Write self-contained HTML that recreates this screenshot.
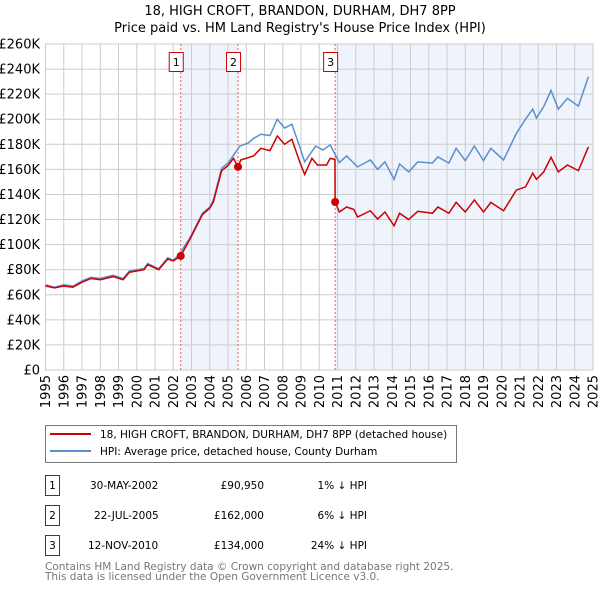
<!DOCTYPE html>
<html><head><meta charset="utf-8"><style>
body{margin:0;background:#fff;font-family:"DejaVu Sans","Liberation Sans",sans-serif;}
svg text{font-family:"DejaVu Sans","Liberation Sans",sans-serif;}
</style></head><body>
<svg id="c" width="600" height="590" viewBox="0 0 600 590">
<text x="300" y="15" text-anchor="middle" font-size="13">18, HIGH CROFT, BRANDON, DURHAM, DH7 8PP</text>
<text x="300" y="32" text-anchor="middle" font-size="13">Price paid vs. HM Land Registry's House Price Index (HPI)</text>
<g id="plot"></g>
<rect x="45.5" y="425.5" width="411" height="37" fill="#fff" stroke="#777"/>
<line x1="50" y1="434" x2="91" y2="434" stroke="#cc0000" stroke-width="2"/>
<text x="100" y="438" font-size="10.5">18, HIGH CROFT, BRANDON, DURHAM, DH7 8PP (detached house)</text>
<line x1="50" y1="451" x2="91" y2="451" stroke="#5b8fd0" stroke-width="2"/>
<text x="100" y="455" font-size="10.5">HPI: Average price, detached house, County Durham</text>
<g font-size="10.5">
<rect x="45.5" y="475.5" width="14" height="20" fill="#fff" stroke="#cc0000"/><text x="52.5" y="489" text-anchor="middle">1</text>
<text x="90" y="489">30-MAY-2002</text>
<text x="264" y="489" text-anchor="end">£90,950</text>
<text x="367" y="489" text-anchor="end">1% ↓ HPI</text>
<rect x="45.5" y="505.5" width="14" height="20" fill="#fff" stroke="#cc0000"/><text x="52.5" y="519" text-anchor="middle">2</text>
<text x="94" y="519">22-JUL-2005</text>
<text x="264" y="519" text-anchor="end">£162,000</text>
<text x="367" y="519" text-anchor="end">6% ↓ HPI</text>
<rect x="45.5" y="535.5" width="14" height="20" fill="#fff" stroke="#cc0000"/><text x="52.5" y="549" text-anchor="middle">3</text>
<text x="88" y="549">12-NOV-2010</text>
<text x="264" y="549" text-anchor="end">£134,000</text>
<text x="367" y="549" text-anchor="end">24% ↓ HPI</text>
</g>
<text x="45" y="570" font-size="10.5" fill="#777">Contains HM Land Registry data © Crown copyright and database right 2025.</text>
<text x="45" y="580" font-size="10.5" fill="#777">This data is licensed under the Open Government Licence v3.0.</text>
</svg>
<script>
const hpiYears=[1995,1995.5,1996,1996.5,1997,1997.5,1998,1998.7,1999.25,1999.6,2000.4,2000.6,2001.2,2001.7,2002,2002.3,2002.9,2003.6,2004,2004.2,2004.65,2005,2005.65,2006.1,2006.4,2006.8,2007.3,2007.7,2008.1,2008.5,2008.93,2009.2,2009.8,2010.2,2010.6,2011.1,2011.5,2012.1,2012.8,2013.2,2013.6,2014.1,2014.4,2014.9,2015.4,2016.2,2016.5,2017.1,2017.5,2018,2018.5,2019,2019.4,2020.1,2020.8,2021.3,2021.7,2021.9,2022.3,2022.7,2023.1,2023.6,2024.2,2024.75];
const hpiValues=[68,66,68,67,71,74,73,75.5,73,79,81,85,80.7,89.5,87.5,91.7,105,125,130,135.6,161,165,178.6,181,184.7,188,187,200,193,196,178,166,178.6,175.5,179.5,165.4,170.7,162,167.5,160,166,152,164.3,158,166,165,170,165,176.8,167,178.6,167,176.8,167.5,188.7,200,208,201,210,223,208,216.6,210.5,234];
const ppYears=[1995,1995.5,1996,1996.5,1997,1997.5,1998,1998.7,1999.25,1999.6,2000.4,2000.6,2001.2,2001.7,2002,2002.41,2002.9,2003.6,2004,2004.2,2004.65,2005,2005.3,2005.55,2005.7,2006.4,2006.8,2007.3,2007.7,2008.1,2008.5,2008.93,2009.2,2009.6,2009.9,2010.4,2010.6,2010.86,2010.87,2011.1,2011.5,2011.9,2012.1,2012.8,2013.2,2013.6,2014.1,2014.4,2014.9,2015.4,2016.2,2016.5,2017.1,2017.5,2018,2018.5,2019,2019.4,2020.1,2020.8,2021.3,2021.7,2021.9,2022.3,2022.7,2023.1,2023.6,2024.2,2024.75];
const ppValues=[67,65.5,67,66,70,73,72,74.5,72,78,80,84,80,88.5,87,90.95,104,124,129,134,159,163,168.8,162,167.5,170.7,176.8,175,186.6,180,184,166,156,168.8,163.5,163.5,168.8,168,134,126,130,128,122,127,120.4,126,115,125,120,126.6,125,130,125,133.7,126,135.6,126,133.7,127,143.5,146,157,152,158,169.6,158,163.5,159,178];
const sales=[{n:'1',y:2002.41,v:90.95},{n:'2',y:2005.55,v:162},{n:'3',y:2010.87,v:134}];
const yTicks=[0,20,40,60,80,100,120,140,160,180,200,220,240,260];
const xTicks=[1995,1996,1997,1998,1999,2000,2001,2002,2003,2004,2005,2006,2007,2008,2009,2010,2011,2012,2013,2014,2015,2016,2017,2018,2019,2020,2021,2022,2023,2024,2025];
const X0=45.5,X1=593,Y0=370,Y1=44;
const sx=y=>X0+(y-1995)/30*(X1-X0);
const sy=v=>Y0-v/260*(Y0-Y1);
const NS='http://www.w3.org/2000/svg';
const g=document.getElementById('plot');
function mk(t,a,p){const e=document.createElementNS(NS,t);for(const k in a)e.setAttribute(k,a[k]);(p||g).appendChild(e);return e;}
const sh1=mk('rect',{x:sx(sales[0].y),y:Y1,width:sx(sales[1].y)-sx(sales[0].y),height:Y0-Y1,fill:'#eef3fc'});


const sh2=mk('rect',{x:sx(sales[2].y),y:Y1,width:X1-sx(sales[2].y),height:Y0-Y1,fill:'#eef3fc'});


yTicks.forEach(v=>{
 const l=mk('line',{x1:X0,x2:X1,y1:sy(v),y2:sy(v),stroke:'#ccc','stroke-width':1});
 
 
 const t=mk('text',{x:40,y:sy(v)+4.5,'text-anchor':'end','font-size':13});
 
 
 t.textContent='£'+(v===0?'0':v+'K');
});
xTicks.forEach(yr=>{
 const l=mk('line',{x1:sx(yr),x2:sx(yr),y1:Y1,y2:Y0,stroke:'#ccc','stroke-width':1});
 
 
 const t=mk('text',{x:0,y:0,'text-anchor':'end','font-size':13,transform:`translate(${sx(yr)+4.5},375) rotate(-90)`});
 
 
 t.textContent=yr;
});
const fr=mk('rect',{x:X0,y:Y1,width:X1-X0,height:Y0-Y1,fill:'none',stroke:'#ccc'});


sales.forEach(s=>{
 const l=mk('line',{x1:sx(s.y),x2:sx(s.y),y1:Y1,y2:Y0,stroke:'#e06060','stroke-dasharray':'2,2','stroke-width':1});
 
 
});
const hp=mk('polyline',{points:hpiYears.map((y,i)=>sx(y)+','+sy(hpiValues[i])).join(' '),fill:'none',stroke:'#5b8fd0','stroke-width':1.5});


const pp=mk('polyline',{points:ppYears.map((y,i)=>sx(y)+','+sy(ppValues[i])).join(' '),fill:'none',stroke:'#cc0000','stroke-width':1.5});


sales.forEach(s=>{
 const c=mk('circle',{cx:sx(s.y),cy:sy(s.v),r:4,fill:'#cc0000'});
 
 
 const b=mk('rect',{x:sx(s.y)-11.5,y:52.5,width:14,height:19,fill:'#fff',stroke:'#cc0000'});
 
 
 const t=mk('text',{x:sx(s.y)-4.5,y:66,'text-anchor':'middle','font-size':11});
 
 
 t.textContent=s.n;
});
</script>
</body></html>
